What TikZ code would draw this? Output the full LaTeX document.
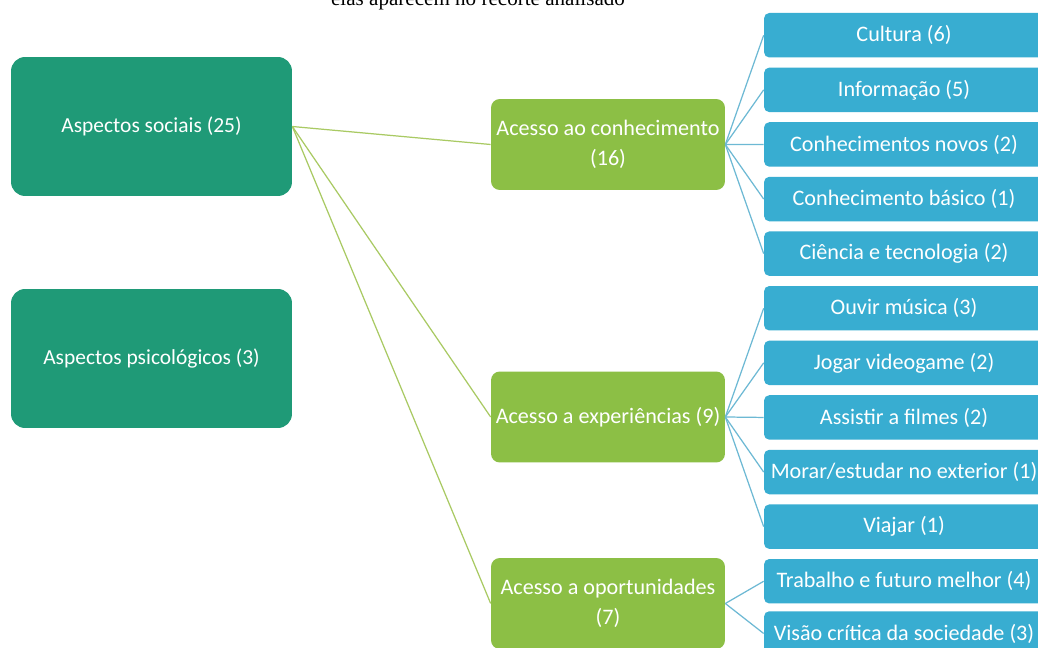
\documentclass[tikz,border=0pt]{standalone}
\usepackage{fontspec}
\setmainfont{Carlito}
\newfontfamily\capfont{Liberation Serif}
\usepackage{xcolor}
\usepackage{tikz}
\usetikzlibrary{positioning,calc}

\definecolor{teal1}{HTML}{1F9A77}
\definecolor{lime1}{HTML}{8CBF45}
\definecolor{sky1}{HTML}{38ADD1}
\definecolor{limeline}{HTML}{A9CA63}
\definecolor{skyline}{HTML}{6DB9D4}

\tikzset{
  aspbox/.style={fill=teal1, rounded corners=8pt, text=white, inner sep=0pt,
    minimum width=5.62cm, minimum height=2.78cm, font=\fontsize{12.2}{14}\selectfont},
  accbox/.style={fill=lime1, rounded corners=5pt, text=white, inner sep=0pt, align=center,
    minimum width=4.68cm, minimum height=1.82cm, font=\fontsize{12.6}{17}\selectfont},
  itembox/.style={fill=sky1, rounded corners=3pt, text=white, inner sep=0pt,
    minimum width=5.6cm, minimum height=0.89cm, font=\fontsize{12.6}{15}\selectfont},
  gline/.style={limeline, line width=0.7pt},
  bline/.style={skyline, line width=0.7pt}
}

\begin{document}
\begin{tikzpicture}[x=0.02cm,y=-0.02cm]
					\useasboundingbox[fill=white] (0,0) rectangle (1038,648);
					\node[anchor=base, font=\capfont\fontsize{12}{14}\selectfont] (cap) at (478, 6) {elas aparecem no recorte analisado};

					\node[aspbox] (s1) at (151.5, 126.5) {Aspectos sociais (25)};
					\node[aspbox] (s2) at (151.5, 358.5) {Aspectos psicológicos (3)};

					\node[accbox] (a1) at (608, 144.5) {Acesso ao conhecimento\\(16)};
					\node[accbox] (a2) at (608, 417) {Acesso a experiências (9)};
					\node[accbox] (a3) at (608, 603.5) {Acesso a oportunidades\\(7)};

					\node[itembox] (c1) at (904, 35.25) {Cultura (6)};
					\node[itembox] (c2) at (904, 89.85) {Informação (5)};
					\node[itembox] (c3) at (904, 144.45) {Conhecimentos novos (2)};
					\node[itembox] (c4) at (904, 199.05) {Conhecimento básico (1)};
					\node[itembox] (c5) at (904, 253.65) {Ciência e tecnologia (2)};
					\node[itembox] (e1) at (904, 308.25) {Ouvir música (3)};
					\node[itembox] (e2) at (904, 362.85) {Jogar videogame (2)};
					\node[itembox] (e3) at (904, 417.45) {Assistir a filmes (2)};
					\node[itembox] (e4) at (904, 472.05) {Morar/estudar no exterior (1)};
					\node[itembox] (e5) at (904, 526.65) {Viajar (1)};
					\node[itembox] (o1) at (904, 581.25) {Trabalho e futuro melhor (4)};
					\node[itembox] (o2) at (904, 633.5) {Visão crítica da sociedade (3)};

					\draw[gline] (s1.east) -- (a1.west);
					\draw[gline] (s1.east) -- (a2.west);
					\draw[gline] (s1.east) -- (a3.west);

					\draw[bline] (a1.east) -- (c1.west);
					\draw[bline] (a1.east) -- (c2.west);
					\draw[bline] (a1.east) -- (c3.west);
					\draw[bline] (a1.east) -- (c4.west);
					\draw[bline] (a1.east) -- (c5.west);
					\draw[bline] (a2.east) -- (e1.west);
					\draw[bline] (a2.east) -- (e2.west);
					\draw[bline] (a2.east) -- (e3.west);
					\draw[bline] (a2.east) -- (e4.west);
					\draw[bline] (a2.east) -- (e5.west);
					\draw[bline] (a3.east) -- (o1.west);
					\draw[bline] (a3.east) -- (o2.west);
				\end{tikzpicture}
\end{document}
